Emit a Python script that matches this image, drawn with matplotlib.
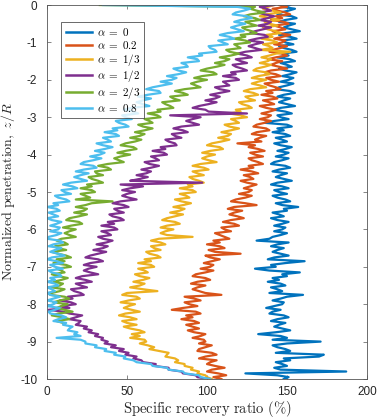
import numpy as np
import matplotlib
matplotlib.use("Agg")
import matplotlib.pyplot as plt

plt.rcParams['font.family'] = ['Liberation Sans', 'DejaVu Sans']
plt.rcParams['mathtext.fontset'] = 'cm'
plt.rcParams['axes.unicode_minus'] = False

# normalized penetration grid (z/R), sampled every 0.05
z = np.linspace(0, -10, 201)

labels = [r'$\alpha\;=\;0$', r'$\alpha\;=\;0.2$', r'$\alpha\;=\;1/3$',
          r'$\alpha\;=\;1/2$', r'$\alpha\;=\;2/3$', r'$\alpha\;=\;0.8$']
colors = ['#0072BD', '#D95319', '#EDB120', '#7E2F8E', '#77AC30', '#4DBEEE']

ratio_a0 = [
    152, 147, 155, 151, 146, 144, 153, 156, 149, 145,
    155, 151, 148, 153, 158, 149, 145, 152, 156, 147,
    149, 154, 145, 148, 153, 156, 147, 151, 144, 152,
    155, 146, 150, 153, 145, 149, 156, 152, 147, 154,
    151, 146, 154, 150, 145, 143, 152, 155, 148, 144,
    152, 148, 145, 150, 155, 146, 142, 149, 153, 144,
    146, 151, 142, 136, 150, 153, 144, 148, 141, 149,
    152, 143, 147, 150, 142, 146, 153, 149, 144, 151,
    148, 143, 151, 147, 142, 140, 149, 152, 145, 141,
    150, 146, 143, 148, 153, 144, 140, 147, 151, 142,
    145, 150, 141, 144, 149, 152, 143, 147, 157, 148,
    150, 141, 145, 148, 140, 144, 151, 147, 142, 149,
    147, 142, 150, 146, 141, 139, 131, 151, 144, 140,
    148, 144, 141, 146, 151, 142, 138, 161, 149, 140,
    143, 130, 139, 158, 147, 150, 141, 145, 138, 146,
    149, 140, 144, 147, 139, 160, 150, 146, 141, 148,
    147, 142, 137, 146, 141, 139, 148, 151, 144, 140,
    149, 145, 142, 147, 152, 143, 132, 146, 150, 141,
    171, 150, 141, 144, 149, 152, 143, 173, 170, 148,
    152, 143, 147, 150, 142, 146, 187, 124, 144, 151,
    148]

ratio_a02 = [
    145, 150, 141, 144, 149, 152, 143, 147, 140, 148,
    151, 142, 146, 149, 141, 145, 152, 147, 142, 149,
    147, 142, 150, 146, 141, 139, 147, 150, 143, 138,
    147, 143, 140, 145, 150, 140, 136, 143, 146, 137,
    140, 145, 136, 139, 143, 146, 137, 141, 134, 141,
    144, 135, 139, 142, 133, 137, 143, 139, 134, 140,
    138, 133, 140, 136, 131, 129, 137, 139, 131, 128,
    137, 133, 130, 134, 119, 130, 126, 132, 136, 127,
    130, 135, 126, 128, 132, 135, 126, 129, 121, 128,
    132, 123, 127, 129, 121, 125, 131, 127, 123, 128,
    126, 120, 128, 124, 118, 115, 124, 131, 117, 113,
    122, 117, 114, 119, 123, 115, 110, 117, 120, 109,
    111, 115, 105, 108, 111, 114, 104, 108, 100, 108,
    111, 101, 105, 121, 99, 102, 108, 103, 98, 104,
    102, 96, 104, 99, 93, 91, 99, 102, 94, 90,
    99, 94, 91, 95, 99, 109, 86, 92, 96, 86,
    89, 94, 85, 78, 93, 96, 87, 91, 84, 92,
    95, 87, 91, 95, 88, 92, 99, 96, 91, 98,
    99, 95, 103, 99, 95, 94, 103, 106, 99, 95,
    106, 102, 100, 105, 111, 103, 100, 107, 112, 104,
    109]

ratio_a13 = [
    142, 138, 135, 141, 146, 137, 133, 140, 145, 136,
    139, 144, 135, 138, 143, 146, 137, 141, 134, 141,
    144, 135, 139, 141, 133, 152, 143, 139, 134, 140,
    138, 133, 140, 136, 131, 129, 137, 139, 132, 128,
    137, 132, 128, 133, 137, 127, 123, 129, 132, 124,
    126, 130, 120, 122, 126, 128, 118, 121, 114, 121,
    125, 115, 118, 120, 111, 114, 120, 115, 109, 115,
    113, 107, 114, 109, 103, 100, 108, 110, 102, 97,
    105, 100, 97, 101, 106, 96, 91, 98, 101, 91,
    94, 98, 89, 91, 95, 98, 88, 91, 83, 91,
    93, 83, 87, 89, 80, 84, 90, 85, 79, 86,
    83, 77, 85, 80, 75, 72, 80, 83, 75, 71,
    79, 74, 71, 75, 91, 70, 65, 71, 74, 65,
    67, 71, 62, 64, 69, 71, 61, 65, 57, 65,
    67, 57, 61, 63, 55, 58, 64, 60, 54, 61,
    58, 52, 60, 69, 50, 47, 56, 58, 51, 46,
    55, 51, 48, 53, 58, 49, 45, 52, 56, 47,
    50, 56, 48, 52, 58, 61, 53, 58, 52, 61,
    62, 58, 63, 67, 64, 70, 76, 75, 74, 80,
    82, 80, 86, 86, 91, 90, 95, 94, 99, 100,
    103]

ratio_a12 = [
    142, 133, 137, 140, 132, 136, 142, 138, 133, 140,
    138, 132, 140, 135, 130, 127, 136, 138, 131, 126,
    135, 130, 126, 130, 134, 124, 119, 125, 128, 118,
    121, 125, 116, 118, 122, 125, 115, 118, 110, 118,
    120, 110, 112, 114, 105, 108, 114, 108, 102, 108,
    105, 99, 106, 101, 95, 91, 99, 101, 125, 77,
    96, 91, 87, 91, 95, 84, 79, 85, 88, 78,
    80, 84, 74, 76, 80, 81, 71, 74, 66, 73,
    75, 65, 68, 70, 61, 64, 70, 65, 59, 65,
    62, 56, 63, 58, 52, 97, 46, 60, 52, 47,
    55, 50, 47, 51, 56, 46, 41, 48, 51, 42,
    44, 48, 39, 41, 46, 48, 38, 42, 34, 42,
    44, 34, 38, 40, 32, 35, 41, 37, 31, 38,
    35, 29, 37, 32, 27, 24, 32, 35, 27, 23,
    31, 26, 23, 27, 32, 22, 18, 24, 28, 18,
    21, 25, 15, 17, 21, 23, 13, 16, 8, 15,
    18, 9, 14, 1, 10, 14, 22, 18, 14, 21,
    20, 18, 25, 23, 28, 26, 32, 30, 35, 34,
    38, 36, 43, 40, 48, 45, 51, 49, 56, 54,
    59, 60, 68, 67, 76, 76, 84, 85, 93, 94,
    101]

ratio_a23 = [
    33, 130, 127, 131, 136, 127, 123, 130, 133, 124,
    127, 131, 122, 124, 128, 131, 121, 124, 117, 124,
    127, 117, 119, 121, 112, 114, 120, 115, 108, 114,
    111, 105, 111, 106, 100, 96, 104, 106, 97, 92,
    100, 94, 90, 93, 96, 86, 80, 85, 88, 77,
    79, 83, 72, 74, 77, 79, 69, 71, 63, 69,
    71, 61, 64, 66, 57, 60, 66, 61, 55, 61,
    58, 52, 59, 55, 49, 46, 54, 56, 49, 44,
    52, 46, 42, 45, 48, 38, 32, 38, 40, 30,
    31, 35, 26, 28, 32, 35, 25, 28, 21, 28,
    30, 21, 24, 27, 18, 41, 28, 24, 18, 25,
    23, 17, 25, 20, 14, 12, 20, 22, 15, 10,
    18, 14, 11, 14, 18, 9, 6, 11, 13, 5,
    7, 12, 3, 7, 12, 15, 6, 11, 4, 12,
    15, 6, 9, 11, 3, 7, 13, 9, 4, 10,
    8, 3, 11, 8, 3, 2, 11, 14, 8, 4,
    13, 9, 6, 11, 16, 7, 3, 10, 14, 6,
    10]

ratio_a08 = [
    35, 119, 127, 123, 118, 116, 125, 128, 121, 117,
    124, 119, 115, 119, 123, 113, 108, 114, 117, 107,
    110, 113, 101, 102, 105, 106, 95, 97, 88, 94,
    95, 84, 87, 88, 79, 82, 87, 82, 75, 81,
    78, 71, 78, 72, 66, 62, 70, 71, 63, 57,
    65, 60, 56, 60, 64, 53, 48, 54, 57, 47,
    49, 53, 43, 45, 49, 51, 41, 44, 36, 43,
    45, 35, 38, 40, 31, 35, 41, 36, 30, 36,
    33, 27, 34, 29, 23, 21, 29, 31, 23, 18,
    26, 21, 17, 21, 25, 15, 10, 16, 19, 9,
    11, 15, 5, 7, 12, 14, 4, 7, 0, 6,
    8, 1, 4, 7, 0, 3, 9, 6, 2, 8,
    7, 2, 9, 6, 1, 0, 8, 10, 4, 1,
    9, 5, 2, 7, 11, 3, 0, 6, 10, 2,
    5, 10, 1, 3, 8, 9, 2, 5, 0, 5,
    7, 0, 3, 5, 0, 2, 8, 4, 0, 6,
    4, 0, 8, 5, 1, 2, 9, 12, 7, 4,
    12, 10, 16, 14, 13, 19, 17, 21, 6, 21,
    24, 24, 31, 30, 37, 36, 43, 42, 49, 48,
    54, 56, 65, 66, 75, 76, 85, 86, 95, 96,
    102]

series = [ratio_a0, ratio_a02, ratio_a13, ratio_a12, ratio_a23, ratio_a08]

xticks = [0, 50, 100, 150, 200]
yticks = [0, -1, -2, -3, -4, -5, -6, -7, -8, -9, -10]

fig = plt.figure(figsize=(3.78, 4.18), dpi=100)
ax = fig.add_axes([0.1243, 0.0933, 0.8466, 0.8947])

for vals, lab, col in zip(series, labels, colors):
    ax.plot(vals, z[:len(vals)], color=col, lw=1.6, label=lab)

ax.set_xlim(0, 200)
ax.set_ylim(-10, 0)
ax.set_xticks(xticks)
ax.set_yticks(yticks)
ax.set_xticklabels([str(t) for t in xticks])
ax.set_yticklabels([str(t) for t in yticks])

edge = '#262626'
for s in ax.spines.values():
    s.set_color('#555555')
    s.set_linewidth(0.6)
ax.tick_params(axis='both', which='both', direction='in', top=True, right=True,
               length=3, width=0.5, color='#555555', labelsize=8.5,
               labelcolor=edge)
ax.tick_params(axis='x', pad=5)
ax.tick_params(axis='y', pad=7)

ax.set_xlabel(r'$\mathrm{Specific\ recovery\ ratio\ (\%)}$', fontsize=10.5,
              color=edge, labelpad=1)
ax.set_ylabel(r'$\mathrm{Normalized\ penetration,}\ z/R$', fontsize=10,
              color=edge, labelpad=2)

leg = ax.legend(loc='upper left', bbox_to_anchor=(0.044, 0.955),
                borderaxespad=0, fontsize=8, frameon=True, fancybox=False,
                handlelength=2.4, handletextpad=0.4, labelspacing=0.06,
                borderpad=0.4)
leg.get_frame().set_edgecolor(edge)
leg.get_frame().set_linewidth(0.6)
for h in leg.get_lines():
    h.set_linewidth(1.8)

fig.savefig('out.png', dpi=100)
